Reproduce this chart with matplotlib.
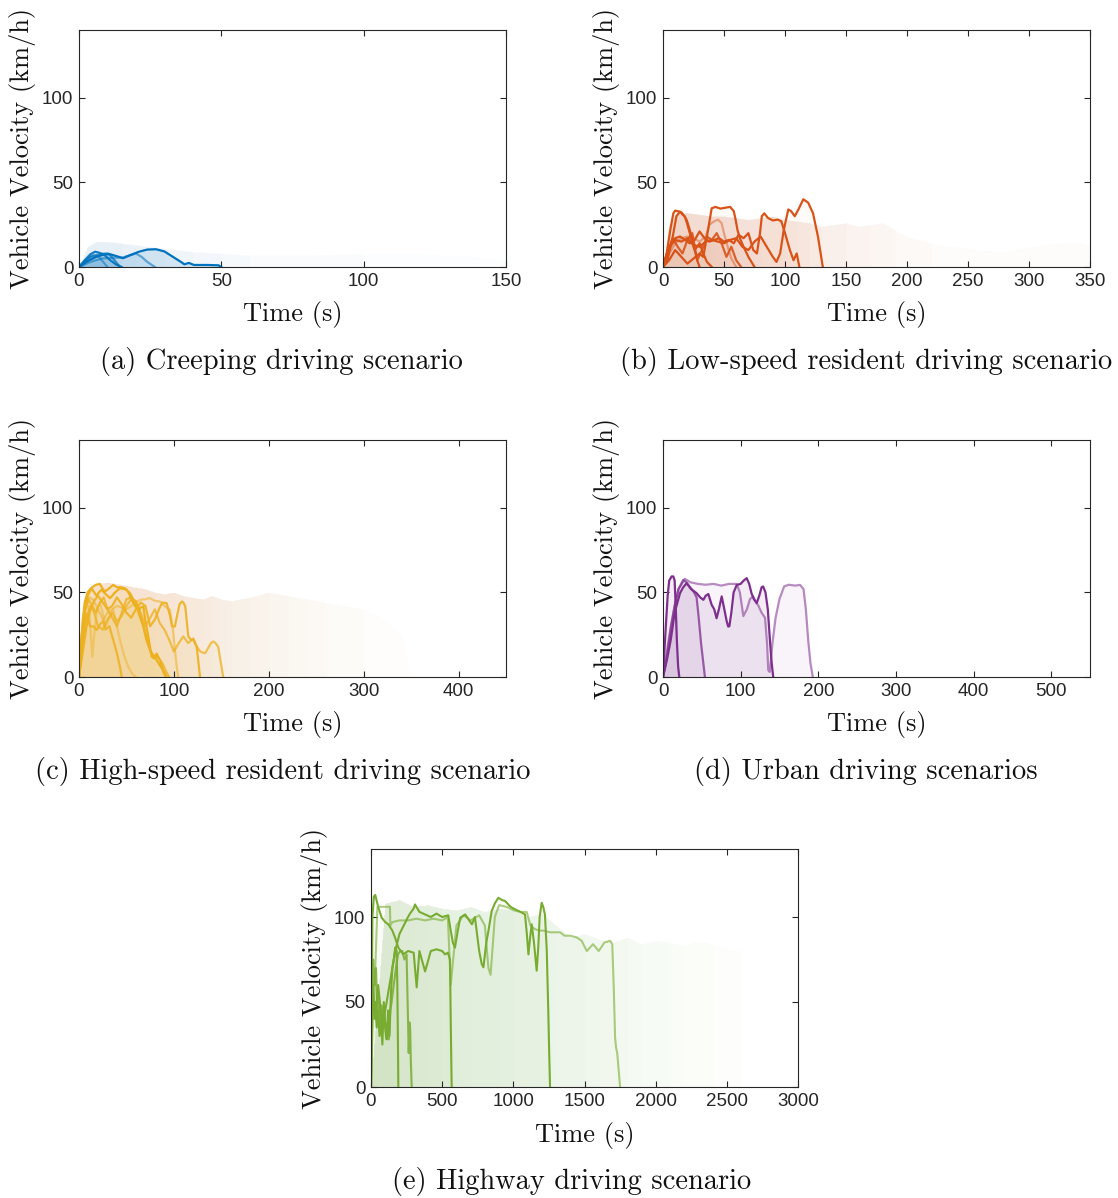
import matplotlib
matplotlib.use("Agg")
import matplotlib.pyplot as plt

W, H = 1118, 1198
SERIF = ['cmr10', 'DejaVu Serif']
plt.rcParams['font.family'] = ['Liberation Sans', 'DejaVu Sans']
plt.rcParams['axes.formatter.use_mathtext'] = False

# ---------------- (a) creeping ----------------
a_cloud_t = [0, 3, 6, 10, 15, 20, 30, 40, 50, 60, 80, 100, 120, 140, 150]
a_cloud_v = [0, 12, 15, 15, 14, 13, 11, 9, 8, 7, 7, 8, 8, 6, 4]
a_cloud_len = [5, 6, 7, 8, 9, 10, 12, 15]

a_l1_t = [0, 3, 6, 9, 11, 13, 15.5, 18, 21, 24, 27, 30, 33, 36, 37, 38.6, 40.4, 45, 49, 50]
a_l1_v = [0, 3.5, 6, 7.5, 7.5, 6.5, 5.2, 7, 9, 10.3, 10.5, 9.2, 6, 2.8, 1.6, 2.4, 1.2, 1.2, 1.0, 0]
a_l2_t = [0, 2, 4, 5.6, 7, 9, 11, 13, 15]
a_l2_v = [0, 4, 7.5, 9, 8.5, 7, 4, 1.5, 0]
a_l3_t = [0, 4, 8, 10.3, 12, 14.4]
a_l3_v = [0, 6, 7.8, 8, 5, 0]
a_l4_t = [0, 4, 8, 12, 15, 18, 20, 22, 24, 26.7]
a_l4_v = [0, 3, 5, 5.5, 5.5, 7, 8, 6, 3, 0]
a_l5_t = [0, 3, 5, 7, 9, 10]
a_l5_v = [0, 5, 7, 6, 2, 0]

# ---------------- (b) low-speed resident ----------------
b_cloud_t = [0, 5, 10, 20, 30, 40, 50, 60, 70, 80, 90, 100, 110, 120, 130, 140, 150, 160, 170, 180, 190, 200, 220, 240, 260, 280, 300, 320, 340, 350]
b_cloud_v = [0, 25, 31, 32, 31, 30, 30, 29, 28, 29, 30, 28, 27, 26, 24, 25, 26, 24, 25, 26, 22, 18, 14, 12, 10, 9, 12, 14, 15, 13]
b_cloud_len = [6, 8, 10, 12, 13, 14, 15, 17, 19, 21, 23, 30]

b_l1_t = [0, 3, 6, 8.5, 10, 13, 15.3, 17, 19.4, 21.5, 23.5, 26, 28, 30]
b_l1_v = [0, 8, 22, 31.8, 33.3, 32.8, 32.2, 30.5, 27.8, 23, 18, 10, 4, 0]
b_l2_t = [0, 4, 8, 11, 13.9, 16, 18, 20, 22, 24, 26, 28, 30, 33, 36, 40]
b_l2_v = [0, 5, 18, 30, 32.7, 31, 29.8, 25, 19.9, 14, 10, 12, 14, 8, 3, 0]
b_l3_t = [0, 3, 6, 10, 14, 18, 22, 26, 30, 34, 38, 42, 46, 50, 54, 58, 62, 66, 70, 74, 77, 79.5, 81, 83, 86, 90, 94, 97, 100, 104, 107, 109.6, 111.8]
b_l3_v = [0, 5, 12, 17, 18, 16, 14, 16, 21, 17, 15, 16, 17, 15, 16, 14, 19, 17, 20, 10, 8, 20, 30, 31.7, 29, 27.5, 28, 27, 20, 10, 4, 8, 0]
b_l4_t = [0, 4, 8, 12, 16, 20, 24, 26, 28, 32, 36, 40, 44, 48, 52, 56, 60, 64]
b_l4_v = [0, 10, 17, 12, 8, 16, 20, 12, 4, 10, 18, 16, 20, 14, 6, 12, 4, 0]
b_l5_t = [0, 5, 10, 15, 20, 25, 30, 33, 36, 39.9, 43, 47, 51, 55, 58, 59.5, 61, 63, 66, 70, 75]
b_l5_v = [0, 4, 10, 6, 2, 5, 8, 6, 18, 34.7, 35.5, 34.5, 35, 35.5, 33, 28, 22, 17, 12, 6, 0]
b_l6_t = [0, 5, 10, 15, 20, 25, 30, 35, 38, 42, 45, 48, 50, 53, 56, 60]
b_l6_v = [0, 8, 14, 17, 18, 17, 15, 18, 25, 27, 28, 26, 20, 12, 5, 0]
b_l7_t = [0, 5, 10, 15, 20, 25, 30, 35, 40, 45, 50, 55, 60, 65, 70, 75, 80, 85, 90, 93, 96, 99, 102.7, 105, 108, 111, 115, 119, 123, 127, 131]
b_l7_v = [0, 12, 16, 15, 17, 13, 12, 15, 16, 15, 14, 16, 17, 12, 10, 15, 18, 12, 6, 3, 8, 22, 34, 33, 30, 34, 40, 38, 31.7, 18, 0]

# ---------------- (c) high-speed resident ----------------
c_cloud_t = [0, 5, 10, 20, 30, 40, 50, 60, 70, 80, 90, 100, 110, 120, 130, 140, 150, 160, 180, 200, 220, 240, 260, 280, 300, 320, 340, 350]
c_cloud_v = [0, 45, 52, 55, 56, 55, 54, 53, 52, 50, 49, 50, 48, 47, 46, 48, 46, 45, 47, 50, 48, 46, 44, 42, 40, 35, 25, 0]
c_cloud_len = [10, 12, 13, 15, 16, 17, 18, 19, 20, 21, 22, 23, 25, 28]

c_l1_t = [0, 2, 4, 6, 9, 12, 15, 18, 22, 25, 27.4, 31, 36, 40, 44, 48.5, 53.7, 57, 60.7, 64, 67.8, 71, 74.8, 78, 81.8, 85, 88.8, 92.2]
c_l1_v = [0, 18, 34, 44, 50, 52, 53.5, 54.5, 55, 52, 50.5, 52, 54.4, 53, 53, 52.4, 49.5, 46, 41.6, 36, 29.8, 22, 16, 13, 10, 7, 4, 0]
c_l2_t = [0, 3, 6, 9, 13.3, 16, 18.6, 21, 23.9, 28, 32.7, 38, 43.2, 47, 50.2, 53, 55.5, 59, 62.5, 65, 67.8, 70, 73, 76.6, 79, 81.8, 85.3, 88.8, 91.6]
c_l2_v = [0, 22, 38, 48, 52.4, 50, 48, 50, 51.5, 49, 46.6, 50, 52.4, 52, 51.5, 49, 45.6, 42, 39.6, 41, 41.6, 33, 23.9, 12, 11, 13.8, 10, 3, 0]
c_l3_t = [0, 3, 6, 9.8, 15, 20, 25.6, 30, 35, 40, 45, 50, 55, 60, 64.3, 70, 74.8, 80, 85.3, 90, 95.9, 99, 101.1, 103, 104.6]
c_l3_v = [0, 20, 38, 47.5, 45.6, 40, 33.7, 38, 40, 42, 41, 40, 42, 44, 45.6, 46, 46.6, 45, 44.6, 42, 39.6, 28, 16, 6, 0]
c_l4_t = [0, 3, 6, 8, 11.6, 15, 18.6, 22, 25.6, 28, 32, 36, 40, 43.2, 45]
c_l4_v = [0, 18, 32, 37.6, 29.8, 30, 27.8, 31, 33, 28, 30, 22, 14, 6, 0]
c_l5_t = [0, 4, 8, 12, 16, 20, 25, 30, 35, 40, 45, 50, 55, 60, 65, 70, 75, 80, 85, 88, 92.4, 96, 98, 101, 104, 106, 108.5, 110, 112, 115.2, 118, 120.5, 124, 126, 127.5]
c_l5_v = [0, 15, 30, 40, 45, 48, 44, 40, 42, 47, 43, 38, 35, 40, 44, 42, 30, 34, 41, 44, 43.6, 36, 30, 29.8, 38, 43, 44.6, 44, 41.6, 23.9, 22, 22, 18, 8, 0]
c_l6_t = [0, 4, 8, 12, 16, 20, 25, 30, 35, 40, 45, 50, 55, 60, 65, 70, 75, 80, 85, 90, 95, 100, 105, 110, 115, 120.5, 124, 128, 132.8, 136, 139, 141.5, 144, 146.7, 149, 152]
c_l6_v = [0, 20, 35, 42, 38, 30, 28, 34, 38, 33, 36, 42, 46, 45, 38, 30, 35, 40, 32, 28, 22, 15, 20, 24, 20, 22.8, 18, 15, 14, 17, 20, 21, 20, 17.8, 10, 0]
c_l7_t = [0, 3, 6, 10, 14, 18, 22, 26, 30, 35, 40, 45, 50, 55, 60, 64, 68, 72, 76, 80, 84, 88, 92, 95]
c_l7_v = [0, 25, 40, 46, 42, 38, 44, 47, 40, 35, 30, 38, 46, 47, 44, 38, 30, 22, 14, 12, 11, 8, 3, 0]
c_l8_t = [0, 3, 6, 9, 12, 14, 16, 19, 22, 25, 28, 32, 36, 40, 44, 48, 52, 56, 60]
c_l8_v = [0, 25, 42, 45, 30, 12, 25, 40, 44, 38, 30, 35, 40, 30, 20, 12, 6, 2, 0]

# ---------------- (d) urban ----------------
d_l1_t = [0, 3, 6, 8, 11.1, 13.3, 15, 16.5, 18, 19.5, 21]
d_l1_v = [0, 25, 48, 57, 59.4, 59.4, 57, 40, 20, 6, 0]
d_l2_t = [0, 5, 10, 15, 21.9, 26, 30.5, 36, 43.3, 48, 52, 55, 58.4, 62.7, 66, 69, 72, 75.6, 79, 82, 84, 85.5, 88, 91, 95, 100, 104, 107.8, 111, 114, 117, 120.7, 124, 127, 129, 132, 135, 138, 140, 142]
d_l2_v = [0, 10, 22, 38, 49.5, 53, 55.4, 52, 49.5, 47, 45.6, 48, 49, 42.6, 40, 34.7, 40, 47.6, 40, 33, 29.8, 30, 38, 50, 54.4, 55, 57, 58.4, 55, 49.5, 46, 43.6, 48, 53, 53.5, 50, 40, 20, 8, 0]
d_l3_t = [0, 5, 10, 15, 20, 26.2, 30, 35, 40, 43.3, 46, 49, 52, 54]
d_l3_v = [0, 12, 28, 42, 52, 57.4, 56, 53, 50, 47, 35, 20, 8, 0]
d_l4_t = [0, 5, 10, 15, 20, 28.3, 35, 45, 55, 65, 75, 85, 95, 99, 103.5, 108, 112, 116, 119, 123, 127, 131.4, 134, 135.6, 137.6, 141, 145, 150, 156, 162, 170, 176.5, 181, 184, 187, 190, 193]
d_l4_v = [0, 15, 30, 42, 52, 58, 56, 55, 54.5, 55, 54, 55, 55, 50, 36, 40, 46, 47.6, 45, 42, 38, 35, 20, 4, 3, 20, 35, 46, 53.5, 54.5, 54, 54.4, 52, 40, 22, 8, 0]

# ---------------- (e) highway ----------------
e_cloud_t = [0, 100, 200, 300, 400, 500, 600, 700, 800, 900, 1000, 1100, 1200, 1300, 1400, 1500, 1600, 1700, 1800, 1900, 2000, 2100, 2200, 2300, 2400, 2500, 2600]
e_cloud_v = [0, 108, 110, 106, 107, 105, 104, 106, 103, 105, 104, 100, 102, 95, 88, 90, 87, 85, 88, 84, 86, 85, 83, 86, 84, 82, 80]
e_cloud_len = [3, 4, 5, 6, 7, 8, 10, 11, 13, 14, 16, 17, 19, 20, 22, 23, 25, 27]

e_l1_t = [0, 10, 20, 30, 45, 60, 100, 133, 136, 150, 200, 260, 320, 380, 440, 500, 540, 560, 600, 650, 700, 760, 800, 825, 840, 870, 900, 950, 1000, 1050, 1094, 1120, 1150, 1180, 1211, 1260, 1328, 1360, 1400, 1445, 1480, 1516, 1560, 1600, 1640, 1680, 1695, 1705, 1715, 1722, 1730, 1740, 1750]
e_l1_v = [0, 60, 40, 70, 106, 106, 106, 106, 95, 97, 98, 98, 99, 98, 99, 98, 100, 60, 95, 101, 98, 101, 95, 70, 66, 100, 107, 106, 104, 103, 103, 95, 93, 92, 92, 91, 91, 89, 89, 88, 86, 80, 84, 80, 85, 86, 84, 60, 29, 23, 20, 10, 0]
e_l2_t = [0, 10, 20, 30, 50, 75, 100, 122, 150, 169, 192, 227, 260, 300, 309, 321, 340, 380, 420, 460, 500, 520, 540, 555, 560, 565, 567]
e_l2_v = [0, 100, 112, 113, 106, 99.6, 97, 95.7, 92, 87.9, 82, 78, 80, 79, 70, 58.6, 80, 68, 80, 81, 80, 78, 79, 75, 40, 10, 0]
e_l3_t = [0, 15, 30, 50, 80, 110, 140, 170, 200, 230, 260, 274, 300, 309, 340, 380, 420, 460, 500, 543, 560, 575, 590, 610, 627, 662, 690, 709, 730, 760, 778, 790, 810, 825, 848, 870, 895, 920, 942, 980, 1012, 1050, 1082, 1095, 1106, 1118, 1129, 1145, 1164, 1175, 1185, 1199, 1210, 1222, 1235, 1246, 1252, 1258]
e_l3_v = [0, 55, 40, 60, 35, 50, 65, 80, 90, 95, 100, 102, 105, 107.4, 103, 101.5, 100, 102, 100, 101, 92, 85, 82, 92, 99.6, 101.5, 98, 95.7, 100, 80, 72.3, 70.4, 85, 91.8, 103.5, 108, 111.3, 110, 109.4, 106, 104.5, 103, 101.5, 90, 78, 88, 95.7, 85, 68.4, 82, 100, 108.4, 106, 101.5, 80, 43, 20, 0]
e_l4_t = [0, 5, 10, 15, 20, 30, 40, 50, 60, 70, 80, 90, 100, 110, 120, 130, 140, 150, 160, 170, 180, 185, 190, 192]
e_l4_v = [0, 70, 55, 60, 45, 50, 35, 45, 30, 40, 25, 50, 35, 28, 45, 30, 55, 70, 75, 82, 80, 60, 20, 0]
e_l5_t = [0, 8, 15, 25, 35, 45, 55, 65, 75, 85, 95, 105, 115, 125, 135, 145, 160, 175, 190, 205, 220, 235, 250, 260, 265, 270, 275, 280, 286]
e_l5_v = [0, 50, 75, 60, 70, 45, 55, 40, 48, 35, 42, 30, 38, 28, 45, 50, 60, 70, 78, 80, 80, 75, 78, 40, 20, 38, 35, 15, 0]

fig = plt.figure(figsize=(W / 100, H / 100), dpi=100)


def make_ax(l, t, r, b, xmax, xticks):
    ax = fig.add_axes([l / W, 1 - b / H, (r - l) / W, (b - t) / H])
    ax.set_xlim(0, xmax)
    ax.set_ylim(0, 140)
    ax.set_xticks(xticks)
    ax.set_yticks([0, 50, 100])
    ax.tick_params(direction='in', top=True, right=True, length=4.5, width=0.8,
                   labelsize=13.5, colors='#262626', pad=4)
    for s in ax.spines.values():
        s.set_color('#262626')
        s.set_linewidth(0.8)
    ax.set_xlabel('Time (s)', family=SERIF, fontsize=19, color='#111111')
    ax.set_ylabel('Vehicle Velocity (km/h)', family=SERIF, fontsize=19, color='#111111')
    ax.xaxis.set_label_coords(0.5, -0.145)
    ax.yaxis.set_label_coords(-0.1, 0.5)
    return ax


def cloud(ax, t, v, lens, color, alpha):
    for k in lens:
        ax.fill_between(t[:k], v[:k], color=color, alpha=alpha, lw=0)


def traces(ax, lines, color, fill_color, fill_alpha, lw=1.6):
    for t, v, a in lines:
        ax.fill_between(t, v, color=fill_color, alpha=fill_alpha * a, lw=0)
    for t, v, a in lines:
        ax.plot(t, v, color=color, alpha=a, lw=lw, solid_joinstyle='round')


def caption(x, y, s):
    fig.text(x / W, 1 - y / H, s, family=SERIF, fontsize=20.5, ha='center', va='center', color='#111111')


# (a)
ax = make_ax(79, 30, 506, 267, 150, [0, 50, 100, 150])
cloud(ax, a_cloud_t, a_cloud_v, a_cloud_len, '#8ec3e8', 0.025)
traces(ax, [(a_l5_t, a_l5_v, 0.5), (a_l4_t, a_l4_v, 0.55), (a_l3_t, a_l3_v, 0.75),
            (a_l2_t, a_l2_v, 0.9), (a_l1_t, a_l1_v, 1.0)], '#0072BD', '#0072BD', 0.12)
caption(281, 361, '(a) Creeping driving scenario')

# (b)
ax = make_ax(663, 30, 1090, 267, 350, [0, 50, 100, 150, 200, 250, 300, 350])
cloud(ax, b_cloud_t, b_cloud_v, b_cloud_len, '#F08C60', 0.025)
traces(ax, [(b_l6_t, b_l6_v, 0.45), (b_l4_t, b_l4_v, 0.9), (b_l3_t, b_l3_v, 1.0),
            (b_l5_t, b_l5_v, 1.0), (b_l2_t, b_l2_v, 1.0), (b_l1_t, b_l1_v, 1.0),
            (b_l7_t, b_l7_v, 1.0)], '#D95319', '#E8703A', 0.03)
caption(866, 361, '(b) Low-speed resident driving scenario')

# (c)
ax = make_ax(79, 440, 506, 677, 450, [0, 100, 200, 300, 400])
cloud(ax, c_cloud_t, c_cloud_v, c_cloud_len, '#F7B27A', 0.022)
traces(ax, [(c_l8_t, c_l8_v, 0.45), (c_l3_t, c_l3_v, 0.55), (c_l7_t, c_l7_v, 0.8),
            (c_l6_t, c_l6_v, 0.75), (c_l5_t, c_l5_v, 0.9), (c_l4_t, c_l4_v, 0.85),
            (c_l2_t, c_l2_v, 1.0), (c_l1_t, c_l1_v, 1.0)], '#EDB120', '#F2C038', 0.07)
caption(283, 771, '(c) High-speed resident driving scenario')

# (d)
ax = make_ax(663, 440, 1090, 677, 550, [0, 100, 200, 300, 400, 500])
traces(ax, [(d_l4_t, d_l4_v, 0.55), (d_l3_t, d_l3_v, 0.75),
            (d_l2_t, d_l2_v, 1.0), (d_l1_t, d_l1_v, 1.0)], '#7E2F8E', '#7E2F8E', 0.09)
caption(866, 771, '(d) Urban driving scenarios')

# (e)
ax = make_ax(371, 849, 798, 1087, 3000, [0, 500, 1000, 1500, 2000, 2500, 3000])
cloud(ax, e_cloud_t, e_cloud_v, e_cloud_len, '#B5D394', 0.018)
traces(ax, [(e_l1_t, e_l1_v, 0.6), (e_l5_t, e_l5_v, 0.85), (e_l4_t, e_l4_v, 1.0),
            (e_l2_t, e_l2_v, 1.0), (e_l3_t, e_l3_v, 1.0)], '#77AC30', '#77AC30', 0.025, lw=1.5)
caption(572, 1181, '(e) Highway driving scenario')

fig.savefig('out.png', dpi=100)
